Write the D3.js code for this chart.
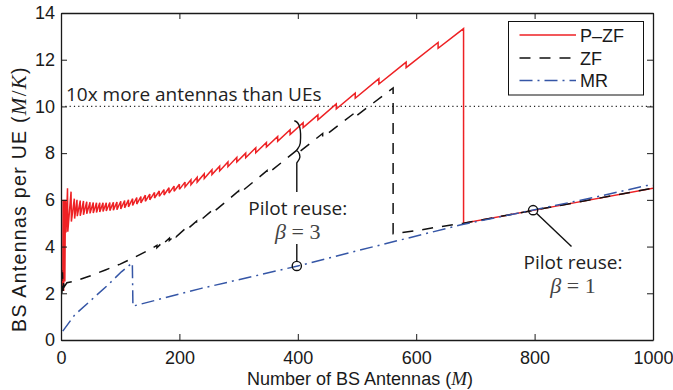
<!DOCTYPE html>
<html><head><meta charset="utf-8">
<script src="https://cdn.jsdelivr.net/npm/d3@7"></script>
<style>body{margin:0;background:#fff} svg{display:block}</style>
</head><body>
<svg id="c" width="673" height="390"></svg>
<script>
// ---- data ----
const xTicks = [0, 200, 400, 600, 800, 1000];
const yTicks = [0, 2, 4, 6, 8, 10, 12, 14];
const seriesNames = ["P\u2013ZF", "ZF", "MR"];
const thresholdValue = 10;
// P-ZF : [M, M/K]
const pzf = [[3,2.3],[3.5,6.0],[4.5,2.1],[5.5,6.0],[6.5,2.5],[7.5,6.0],[8.5,4.6],[11,6.5],[11.5,4.64],[17,6.35],[17.5,5.07],[22.5,6.05],[23,5.2],[27,6.0],[27.5,5.3],
[32.5,5.97],[32.5,5.32],[38,5.95],[38,5.36],[43.5,5.92],[43.5,5.4],[49,5.9],[49,5.42],[54.5,5.89],[54.5,5.44],[60,5.88],[60,5.46],[65.5,5.88],[65.5,5.48],
[71,5.88],[71,5.5],[76.5,5.88],[76.5,5.52],[82.5,5.89],[82.5,5.54],[88.5,5.9],[88.5,5.56],[94.5,5.91],[94.5,5.58],[101,5.94],[101,5.61],[107.5,5.97],[107.5,5.66],
[114,6.0],[114,5.7],[121,6.05],[121,5.76],[128,6.1],[128,5.82],[135,6.14],[135,5.87],[142.5,6.2],[142.5,5.94],[150,6.25],[150,6.0],[158,6.32],[158,6.08],
[166,6.38],[166,6.15],[174,6.44],[174,6.21],[182.5,6.52],[182.5,6.29],[191,6.59],[191,6.37],[200,6.67],[200,6.45],[209.5,6.76],[209.5,6.55],[219.5,6.86],[219.5,6.65],
[230,6.97],[230,6.76],[242,7.12],[242,6.91],[255,7.29],[255,7.08],[268,7.44],[268,7.24],[282,7.62],[282,7.42],[297,7.82],[297,7.62],[312,8.0],[312,7.8],
[329,8.23],[329,8.02],[347,8.46],[347,8.26],[366,8.71],[366,8.51],[387,9.0],[387,8.8],[409,9.3],[409,9.09],[434,9.64],[434,9.43],[465,10.11],[465,9.89],
[497,10.57],[497,10.35],[537,11.19],[537,10.96],[583,11.9],[583,11.66],[637,12.74],[637,12.49],[680,13.33],[680,5.0],[800,5.56],[1000,6.5]];
// ZF
const zf = [[1,3.0],[1.5,2.0],[2.5,2.9],[3.5,2.1],[4.5,2.6],[6,2.3],[10,2.45],[20,2.5],[30,2.58],[50,2.75],[75,3.0],[100,3.25],[125,3.55],[150,3.87],
[162,4.05],[162,3.95],[172,4.2],[172,4.1],[183,4.36],[183,4.26],[195,4.54],[195,4.43],[210,4.77],[210,4.67],[229,5.09],[229,4.98],[259,5.63],[259,5.51],
[300,6.38],[300,6.25],[348,7.25],[348,7.1],[397,8.1],[397,7.94],[442,8.84],[442,8.67],[500,9.8],[500,9.62],[561,10.79],[561,4.55],[600,4.68],[640,4.85],
[680,5.0],[800,5.56],[1000,6.5]];
// MR
const mr = [[3,0.38],[23,1.07],[51,1.71],[79,2.35],[102,2.92],[120.5,3.3],[121.5,1.45],[237,2.21],[400,3.17],[505,3.85],[674,4.92],[800,5.58],[900,6.1],[990,6.62],[1000,6.62]];
// annotation anchor points [M, value]
const beta3Point = [400, 3.17];
const beta1Point = [800, 5.56];

// ---- drawing ----
const svg = d3.select("#c");
const x = d3.scaleLinear().domain([0, 1000]).range([61, 653]);
const y = d3.scaleLinear().domain([0, 14]).range([340, 13]);
const colors = ["#ee2124", "#111111", "#3556a6"];
const dashes = [null, "11,9", "13,5,2,5"];
const AX = "#1a1a1a";
const sansF = "'Liberation Sans', Arial, sans-serif";
const labF = "'Open Sans', sans-serif";
const serifF = "'Liberation Serif', 'DejaVu Serif', serif";

svg.append("defs").append("clipPath").attr("id", "clip")
  .append("rect").attr("x", x(0)).attr("y", y(14)).attr("width", x(1000) - x(0)).attr("height", y(0) - y(14));

const plot = svg.append("g").attr("clip-path", "url(#clip)");

// threshold dotted line
plot.append("line").attr("x1", x(0)).attr("x2", x(1000)).attr("y1", y(thresholdValue)).attr("y2", y(thresholdValue))
  .attr("stroke", "#222").attr("stroke-width", 1.2).attr("stroke-dasharray", "1.2,3.1");

const line = d3.line().x(d => x(d[0])).y(d => y(d[1]));
[pzf, zf, mr].forEach((s, i) => {
  plot.append("path").datum(s).attr("d", line).attr("fill", "none")
    .attr("stroke", colors[i]).attr("stroke-width", 1.5)
    .attr("stroke-linejoin", "miter").attr("stroke-miterlimit", 3)
    .attr("stroke-dasharray", dashes[i]);
});

// axes
function styleAxis(g) {
  g.select(".domain").attr("stroke", AX).attr("stroke-width", 1.3);
  g.selectAll(".tick line").attr("stroke", AX).attr("stroke-width", 1);
  g.selectAll(".tick text").attr("fill", "#1a1a1a").style("font-family", sansF).style("font-size", "18px");
}
svg.append("g").attr("transform", `translate(0,${y(0)})`)
  .call(d3.axisBottom(x).tickValues(xTicks).tickSizeInner(-6).tickSizeOuter(0).tickPadding(11).tickFormat(d3.format("d")))
  .call(styleAxis);
svg.append("g").attr("transform", `translate(0,${y(14)})`)
  .call(d3.axisTop(x).tickValues(xTicks).tickSizeInner(-6).tickSizeOuter(0).tickFormat(""))
  .call(styleAxis);
svg.append("g").attr("transform", `translate(${x(0)},0)`)
  .call(d3.axisLeft(y).tickValues(yTicks).tickSizeInner(-6).tickSizeOuter(0).tickPadding(6).tickFormat(d3.format("d")))
  .call(styleAxis);
svg.append("g").attr("transform", `translate(${x(1000)},0)`)
  .call(d3.axisRight(y).tickValues(yTicks).tickSizeInner(-6).tickSizeOuter(0).tickFormat(""))
  .call(styleAxis);

// axis labels
const xl = svg.append("text").attr("x", (x(0) + x(1000)) / 2 + 3).attr("y", 385).attr("text-anchor", "middle")
  .style("font-family", sansF).style("font-size", "18px").attr("fill", "#1a1a1a");
xl.append("tspan").text("Number of BS Antennas (");
xl.append("tspan").text("M").style("font-family", serifF).style("font-style", "italic").style("font-size", "19px");
xl.append("tspan").text(")");

const yl = svg.append("text").attr("transform", "translate(26,199) rotate(-90)").attr("text-anchor", "middle")
  .style("font-family", sansF).style("font-size", "19.5px").style("letter-spacing", "1.3px").attr("fill", "#1a1a1a");
yl.append("tspan").text("BS Antennas per UE (");
yl.append("tspan").text("M").style("font-family", serifF).style("font-style", "italic").style("font-size", "21px");
yl.append("tspan").text("/").style("font-family", serifF).style("font-size", "21px");
yl.append("tspan").text("K").style("font-family", serifF).style("font-style", "italic").style("font-size", "21px");
yl.append("tspan").text(")");

// threshold text
svg.append("text").attr("x", 66).attr("y", 101).text("10x more antennas than UEs")
  .style("font-family", labF).style("font-size", "19px").attr("fill", "#222");

// annotation beta = 3
const bx = x(beta3Point[0]);
svg.append("path")
  .attr("d", `M${bx-3.5},120.7 C${bx+2.5},122 ${bx+3.5},131 ${bx+2.5},143 C${bx+2},147 ${bx-0.5},149 ${bx-1.2},150.5 C${bx+1.5},152 ${bx+3},156 ${bx+1.5},159 C${bx+0.5},161 ${bx-0.5},162 ${bx-1},163 L${bx-1},192`)
  .attr("fill", "none").attr("stroke", "#111").attr("stroke-width", 1.4);
svg.append("line").attr("x1", bx - 1).attr("x2", bx - 1).attr("y1", 244).attr("y2", y(beta3Point[1]) - 4.5)
  .attr("stroke", "#111").attr("stroke-width", 1.4);
svg.append("circle").attr("cx", bx - 1).attr("cy", y(beta3Point[1])).attr("r", 4.6)
  .attr("fill", "none").attr("stroke", "#111").attr("stroke-width", 1.4);
svg.append("text").attr("x", bx).attr("y", 215).attr("text-anchor", "middle").text("Pilot reuse:")
  .style("font-family", labF).style("font-size", "19px").attr("fill", "#222");
const b3 = svg.append("text").attr("x", bx).attr("y", 239).attr("text-anchor", "middle")
  .style("font-family", serifF).style("font-size", "22px").attr("fill", "#444");
b3.append("tspan").text("\u03B2").style("font-style", "italic");
b3.append("tspan").text(" = 3");

// annotation beta = 1
const cx1 = x(beta1Point[0]) - 1.5, cy1 = y(beta1Point[1]);
svg.append("circle").attr("cx", cx1).attr("cy", cy1).attr("r", 4.6)
  .attr("fill", "none").attr("stroke", "#111").attr("stroke-width", 1.4);
svg.append("line").attr("x1", cx1 + 3.4).attr("y1", cy1 + 3.2).attr("x2", 571.5).attr("y2", 246.5)
  .attr("stroke", "#111").attr("stroke-width", 1.4);
svg.append("text").attr("x", 573).attr("y", 269).attr("text-anchor", "middle").text("Pilot reuse:")
  .style("font-family", labF).style("font-size", "19px").attr("fill", "#222");
const b1 = svg.append("text").attr("x", 573).attr("y", 293).attr("text-anchor", "middle")
  .style("font-family", serifF).style("font-size", "22px").attr("fill", "#444");
b1.append("tspan").text("\u03B2").style("font-style", "italic");
b1.append("tspan").text(" = 1");

// legend
const lg = svg.append("g");
lg.append("rect").attr("x", 508.5).attr("y", 21.5).attr("width", 135).attr("height", 73.5)
  .attr("fill", "#fff").attr("stroke", "#111").attr("stroke-width", 1);
const ly = [35, 58, 80.5];
seriesNames.forEach((n, i) => {
  lg.append("line").attr("x1", 519.5).attr("x2", 576).attr("y1", ly[i]).attr("y2", ly[i])
    .attr("stroke", colors[i]).attr("stroke-width", 1.5).attr("stroke-dasharray", dashes[i]);
  lg.append("text").attr("x", 580).attr("y", ly[i] + 6.5).text(n)
    .style("font-family", sansF).style("font-size", "18px").attr("fill", "#1a1a1a");
});
</script>
</body></html>
